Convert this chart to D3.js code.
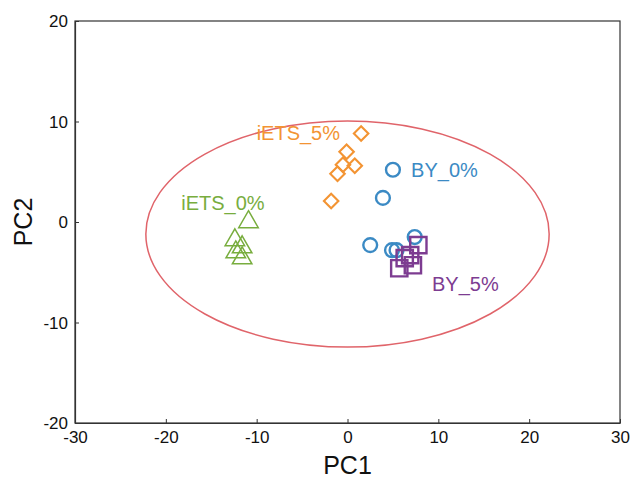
<!DOCTYPE html>
<html>
<head>
<meta charset="utf-8">
<script src="https://cdn.jsdelivr.net/npm/d3@7"></script>
<style>
  body { margin: 0; background: #fff; }
  text { font-family: "Liberation Sans", Arial, sans-serif; }
</style>
</head>
<body>
<svg id="chart"></svg>
<script>
// PCA scores
const byZero = [[5.0, 5.2], [3.9, 2.4], [2.5, -2.3], [4.9, -2.8], [5.4, -2.8], [7.4, -1.5]];
const byFive = [[7.8, -2.3], [6.3, -3.6], [5.7, -4.6], [7.2, -4.3], [6.9, -3.3]];
const ietsZero = [[-10.9, 0.0], [-12.4, -1.8], [-11.6, -2.5], [-12.3, -3.0], [-11.6, -3.6]];
const ietsFive = [[1.5, 8.8], [-0.1, 7.0], [0.8, 5.6], [-0.5, 5.7], [-1.1, 4.8], [-1.8, 2.1]];

const groupNames = ['BY_0%', 'BY_5%', 'iETS_0%', 'iETS_5%'];
const labelPos = [[7.0, 4.5], [9.3, -6.9], [-18.3, 1.2], [-10.0, 8.2]];

const ellipseCenter = [0, -1.2];
const ellipseRadii = [22.2, 11.25];

const xTicks = [-30, -20, -10, 0, 10, 20, 30];
const yTicks = [-20, -10, 0, 10, 20];

const width = 631, height = 478;
const margin = {left: 75, right: 11, top: 21, bottom: 55};

const svg = d3.select('#chart')
  .attr('width', width)
  .attr('height', height);

const x = d3.scaleLinear().domain([-30, 30]).range([margin.left, width - margin.right]);
const y = d3.scaleLinear().domain([-20, 20]).range([height - margin.bottom, margin.top]);

const axisColor = '#333';
const fmt = d => String(d);  // plain hyphen, not unicode minus

// frame
svg.append('rect')
  .attr('x', x(-30)).attr('y', y(20))
  .attr('width', x(30) - x(-30)).attr('height', y(-20) - y(20))
  .attr('fill', 'none').attr('stroke', axisColor).attr('stroke-width', 1.2);

const xAxis = svg.append('g')
  .attr('transform', `translate(0, ${y(-20)})`)
  .call(d3.axisBottom(x).tickValues(xTicks).tickFormat(fmt).tickSizeInner(-4).tickSizeOuter(0).tickPadding(8));
const yAxis = svg.append('g')
  .attr('transform', `translate(${x(-30)}, 0)`)
  .call(d3.axisLeft(y).tickValues(yTicks).tickFormat(fmt).tickSizeInner(-4).tickSizeOuter(0).tickPadding(7));

[xAxis, yAxis].forEach(a => {
  a.select('.domain').attr('stroke', axisColor).attr('stroke-width', 1.2);
  a.selectAll('.tick line').attr('stroke', axisColor);
  a.selectAll('.tick text')
    .attr('fill', '#111')
    .style('font-size', '17px')
    .style('font-family', '"Liberation Sans", Arial, sans-serif');
});
yAxis.selectAll('.tick text').attr('dy', '0.35em');

svg.append('text')
  .attr('x', x(0)).attr('y', 474)
  .attr('text-anchor', 'middle')
  .style('font-size', '25px')
  .attr('fill', '#111')
  .text('PC1');
svg.append('text')
  .attr('transform', `translate(32, ${y(0)}) rotate(-90)`)
  .attr('text-anchor', 'middle')
  .style('font-size', '25px')
  .attr('fill', '#111')
  .text('PC2');

// confidence ellipse
svg.append('ellipse')
  .attr('cx', x(ellipseCenter[0])).attr('cy', y(ellipseCenter[1]))
  .attr('rx', x(ellipseRadii[0]) - x(0))
  .attr('ry', y(0) - y(ellipseRadii[1]))
  .attr('fill', 'none')
  .attr('stroke', '#e0646a')
  .attr('stroke-width', 1.5);

const colors = ['#3b8ac4', '#7d3c91', '#78ad3e', '#f39433'];
const groups = [byZero, byFive, ietsZero, ietsFive];
const symbols = [
  d3.symbol().type(d3.symbolCircle).size(150),
  d3.symbol().type(d3.symbolSquare).size(265),
  d3.symbol().type(d3.symbolTriangle).size(165),
  d3.symbol().type(d3.symbolSquare).size(105)
];
const rotations = [0, 0, 0, 45];
const strokes = [2.4, 2.4, 1.5, 2.1];

groups.forEach((pts, i) => {
  svg.append('g')
    .selectAll('path')
    .data(pts)
    .join('path')
    .attr('d', symbols[i])
    .attr('transform', d => `translate(${x(d[0])}, ${y(d[1])}) rotate(${rotations[i]})`)
    .attr('fill', 'none')
    .attr('stroke', colors[i])
    .attr('stroke-width', strokes[i]);
});

svg.append('g')
  .selectAll('text')
  .data(groupNames)
  .join('text')
  .attr('x', (d, i) => x(labelPos[i][0]))
  .attr('y', (d, i) => y(labelPos[i][1]))
  .attr('fill', (d, i) => colors[i])
  .style('font-size', '20px')
  .text(d => d);
</script>
</body>
</html>
